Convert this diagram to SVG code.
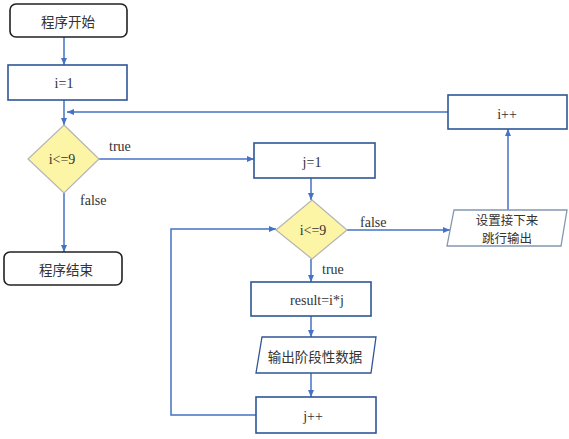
<svg xmlns="http://www.w3.org/2000/svg" width="569" height="439" viewBox="0 0 569 439">
<defs>
<marker id="ah" markerWidth="8" markerHeight="8" refX="7" refY="4" orient="auto" markerUnits="userSpaceOnUse">
<path d="M0,1 L7,4 L0,7 Z" fill="#4472c4"/>
</marker>
<style>
.term{fill:#fff;stroke:#222;stroke-width:1.6}
.box{fill:#fff;stroke:#2f5597;stroke-width:1.6}
.dia{fill:#fdf5a6;stroke:#b4b4b4;stroke-width:1.2}
.io{fill:#fff;stroke:#8497b0;stroke-width:1.3}
.c{fill:none;stroke:#4472c4;stroke-width:1.5}
text{font-family:"Liberation Serif","Noto Sans CJK SC",serif;font-size:14px;fill:#333;text-anchor:middle;dominant-baseline:central}
.cjk{font-family:"Noto Sans CJK SC","Liberation Serif",sans-serif;font-size:13.5px}
.sm{font-size:12.5px}
.lbl{text-anchor:start}
</style>
</defs>
<g id="connectors">
<line class="c" x1="64" y1="37" x2="64" y2="65" marker-end="url(#ah)"/>
<line class="c" x1="64" y1="100" x2="64" y2="125" marker-end="url(#ah)"/>
<polyline class="c" points="448,112 67,112" marker-end="url(#ah)"/>
<line class="c" x1="99" y1="159" x2="254" y2="159" marker-end="url(#ah)"/>
<line class="c" x1="64" y1="193" x2="64" y2="252" marker-end="url(#ah)"/>
<line class="c" x1="311" y1="178" x2="311" y2="200" marker-end="url(#ah)"/>
<line class="c" x1="347" y1="230" x2="450" y2="230" marker-end="url(#ah)"/>
<line class="c" x1="508" y1="210" x2="508" y2="129" marker-end="url(#ah)"/>
<line class="c" x1="311" y1="259" x2="311" y2="282" marker-end="url(#ah)"/>
<line class="c" x1="311" y1="316" x2="311" y2="337" marker-end="url(#ah)"/>
<line class="c" x1="311" y1="373" x2="311" y2="397" marker-end="url(#ah)"/>
<polyline class="c" points="256,415 171,415 171,229 276,229" marker-end="url(#ah)"/>
<text class="lbl" x="109" y="146">true</text>
<text class="lbl" x="80" y="200">false</text>
<text class="lbl" x="360" y="222">false</text>
<text class="lbl" x="322" y="269">true</text>
</g>
<g id="start"><rect class="term" x="10" y="4" width="117" height="33" rx="6"/><text class="cjk" x="68" y="20.5">程序开始</text></g>
<g id="init-i"><rect class="box" x="8" y="65" width="119" height="35"/><text x="64" y="83">i=1</text></g>
<g id="cond-i"><polygon class="dia" points="64,125 99,159 64,193 28,159"/><text x="62" y="159">i&lt;=9</text></g>
<g id="end"><rect class="term" x="4" y="252" width="118" height="33" rx="6"/><text class="cjk" x="66" y="269">程序结束</text></g>
<g id="init-j"><rect class="box" x="254" y="143" width="121" height="35"/><text x="312" y="162">j=1</text></g>
<g id="cond-j"><polygon class="dia" points="312,200 347,230 312,259 276,230"/><text x="313" y="230">i&lt;=9</text></g>
<g id="newline"><polygon class="io" points="454,210 567,210 561,246 447,246"/><text class="cjk sm" x="507" y="219.5">设置接下来</text><text class="cjk sm" x="507" y="237">跳行输出</text></g>
<g id="inc-i"><rect class="box" x="448" y="95" width="119" height="34"/><text x="507" y="114">i++</text></g>
<g id="result"><rect class="box" x="251" y="282" width="120" height="34"/><text x="317" y="300">result=i*j</text></g>
<g id="output"><polygon class="io" points="262,337 376,337 371,373 256,373" style="stroke:#2f5597"/><text class="cjk" x="315" y="356">输出阶段性数据</text></g>
<g id="inc-j"><rect class="box" x="256" y="397" width="120" height="36"/><text x="313" y="416">j++</text></g>
</svg>
